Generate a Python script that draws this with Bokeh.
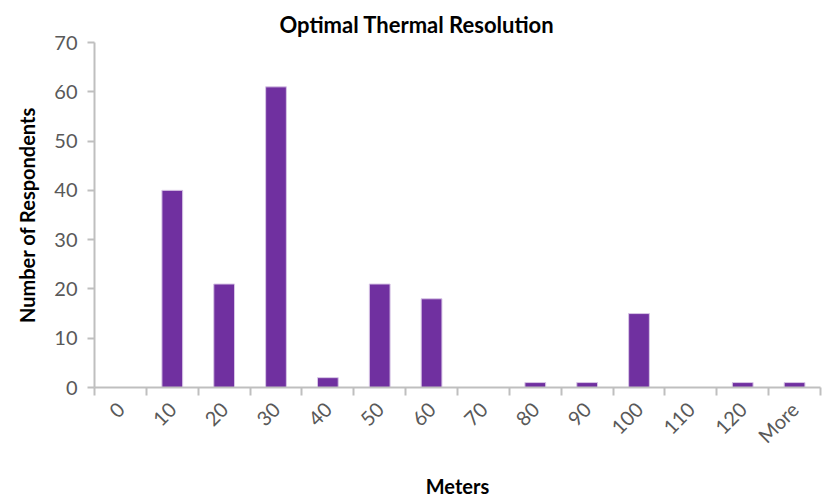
import math
from bokeh.plotting import figure
from bokeh.models import FixedTicker, Range1d, ColumnDataSource
from bokeh.embed import file_html
from bokeh.resources import INLINE

categories = ["0", "10", "20", "30", "40", "50", "60", "70", "80", "90", "100", "110", "120", "More"]
counts = [0, 40, 21, 61, 2, 21, 18, 0, 1, 1, 15, 0, 1, 1]
y_ticks = [0, 10, 20, 30, 40, 50, 60, 70]

FONT = "Lato"
n = len(categories)
centers = [i + 0.5 for i in range(n)]
src = ColumnDataSource(dict(x=centers, top=counts))

p = figure(width=824, height=500, output_backend="svg", toolbar_location=None,
           x_range=Range1d(0, n), y_range=Range1d(0, 70),
           min_border_left=94, min_border_right=4, min_border_top=42, min_border_bottom=113,
           title="Optimal Thermal Resolution")
p.title.align = "left"
p.title.offset = 185
p.title.text_font = FONT
p.title.text_font_size = "22px"
p.title.text_font_style = "bold"
p.title.text_color = "#000000"

p.vbar(x="x", top="top", width=0.4, source=src, fill_color="#7030A0",
       line_color="#d8c6e6", line_width=1)

p.grid.visible = False
p.outline_line_color = None

xa = p.xaxis[0]
xa.ticker = FixedTicker(ticks=centers, minor_ticks=list(range(n + 1)))
xa.major_label_overrides = {c: categories[i] for i, c in enumerate(centers)}
xa.major_tick_out = 0
xa.major_tick_in = 0
xa.minor_tick_out = 8
xa.minor_tick_in = 0
xa.minor_tick_line_color = "#bfbfbf"
xa.minor_tick_line_width = 2
xa.axis_line_color = "#bfbfbf"
xa.axis_line_width = 2
xa.major_label_orientation = math.pi / 4
xa.major_label_text_font = FONT
xa.major_label_text_font_size = "20px"
xa.major_label_text_color = "#595959"
xa.major_label_standoff = 10
xa.axis_label = "Meters"
xa.axis_label_text_font = FONT
xa.axis_label_text_font_size = "20px"
xa.axis_label_text_font_style = "bold"
xa.axis_label_text_color = "#000000"
xa.axis_label_standoff = 15

ya = p.yaxis[0]
ya.ticker = FixedTicker(ticks=y_ticks)
ya.minor_tick_line_color = None
ya.major_tick_out = 7
ya.major_tick_in = 0
ya.major_tick_line_color = "#bfbfbf"
ya.major_tick_line_width = 2
ya.axis_line_color = "#bfbfbf"
ya.axis_line_width = 2
ya.major_label_text_font = FONT
ya.major_label_text_font_size = "20px"
ya.major_label_text_color = "#595959"
ya.major_label_standoff = 10
ya.axis_label = "Number of Respondents"
ya.axis_label_text_font = FONT
ya.axis_label_text_font_size = "20px"
ya.axis_label_text_font_style = "bold"
ya.axis_label_text_color = "#000000"
ya.axis_label_standoff = 12

open("out.html", "w").write(file_html(p, INLINE))
